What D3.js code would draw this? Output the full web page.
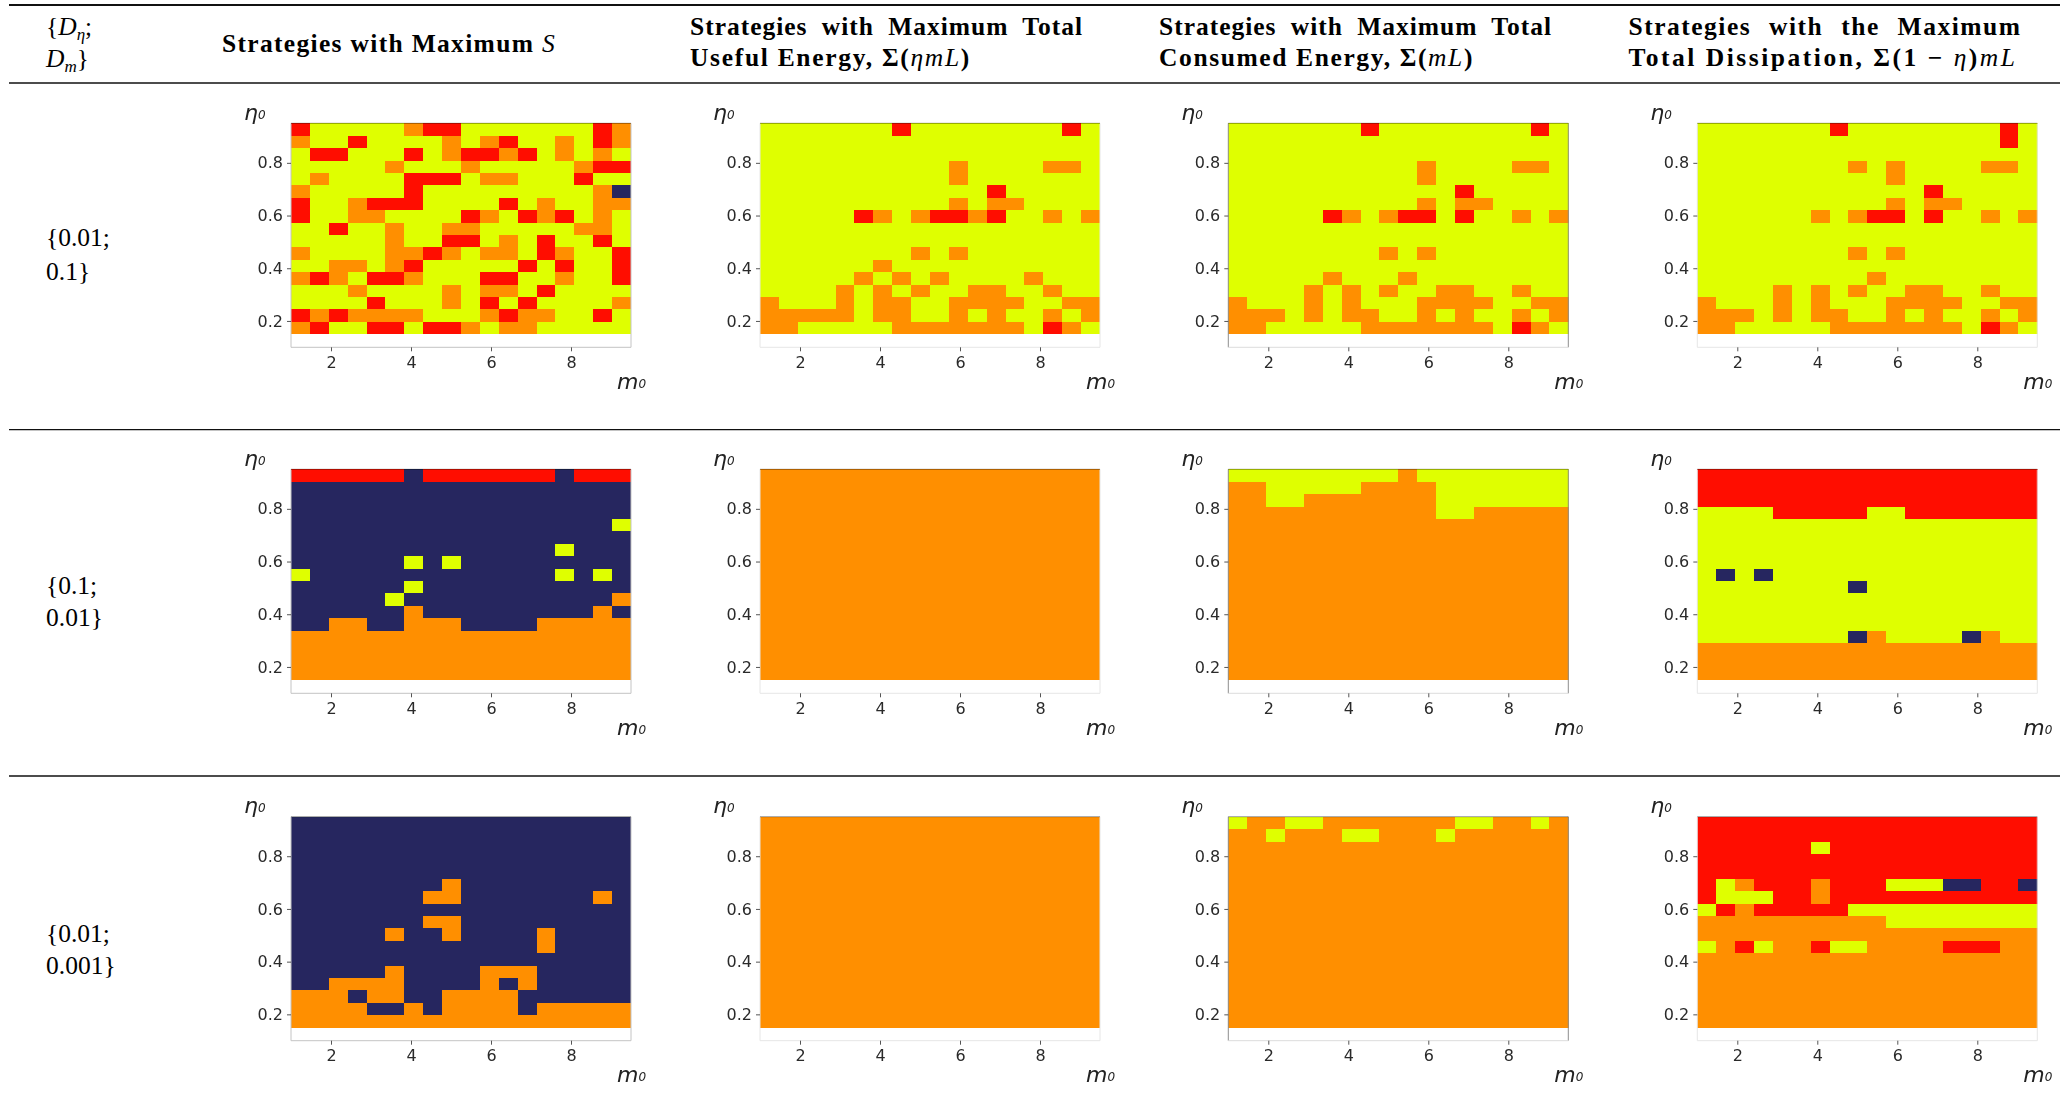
<!DOCTYPE html>
<html><head><meta charset="utf-8">
<script src="https://cdn.jsdelivr.net/npm/d3@7/dist/d3.min.js"></script>
<style>html,body{margin:0;padding:0;background:#fff}svg{display:block}</style>
</head><body><svg id="c" width="2067" height="1120"></svg>
<script>
// Strategy code per cell, rows top (eta 0.95) to bottom (eta 0.15), 18 m0 columns.
// Y yellow, O orange, R red, N navy
const sMaxA = ["RYYYYYORRYYYYYYYRO","OYYRYYYYOYORYYOYRO","YRRYYYRYORRORYOYOY","YYYYYOYYYOYYYYYORR","YOYYYYRRRYOOYYYRYY","OYYYYYRYYYYYYYYYON","RYYORRRYYYYRYOYYOO","RYYOOYYYYROYRORYOY","YYRYYOYYOOYYYYYOOY","YYYYYOYYRRYOYRYYRY","OYYYYOOROYOOYROYYR","YYOOYORYYYYYRYRYYR","OROYRROYYYRRYYOYYR","YYYOYYYYOYOOYRYYYY","YYYYRYYYOYRYRYYYYO","ROROOOOYYYOROOYYRY","ORYYRRYRROYOOYYYYY"];
const usefulA = ["YYYYYYYRYYYYYYYYRY","YYYYYYYYYYYYYYYYYY","YYYYYYYYYYYYYYYYYY","YYYYYYYYYYOYYYYOOY","YYYYYYYYYYOYYYYYYY","YYYYYYYYYYYYRYYYYY","YYYYYYYYYYOYOOYYYY","YYYYYROYORRORYYOYO","YYYYYYYYYYYYYYYYYY","YYYYYYYYYYYYYYYYYY","YYYYYYYYOYOYYYYYYY","YYYYYYOYYYYYYYYYYY","YYYYYOYOYOYYYYOYYY","YYYYOYOYOYYOOYYOYY","OYYYOYOOYYOOOOYYOO","OOOOOYOOYYOYOYYOYO","OOYYYYYOOOOOOOYROY"];
const consumedA = ["YYYYYYYRYYYYYYYYRY","YYYYYYYYYYYYYYYYYY","YYYYYYYYYYYYYYYYYY","YYYYYYYYYYOYYYYOOY","YYYYYYYYYYOYYYYYYY","YYYYYYYYYYYYRYYYYY","YYYYYYYYYYOYOOYYYY","YYYYYROYORRYRYYOYO","YYYYYYYYYYYYYYYYYY","YYYYYYYYYYYYYYYYYY","YYYYYYYYOYOYYYYYYY","YYYYYYYYYYYYYYYYYY","YYYYYOYYYOYYYYYYYY","YYYYOYOYOYYOOYYOYY","OYYYOYOYYYOOOOYYOO","OOOYOYOOYYOYOYYOYO","OOYYYYYOOOOOOOYROY"];
const dissipA = ["YYYYYYYRYYYYYYYYRY","YYYYYYYYYYYYYYYYRY","YYYYYYYYYYYYYYYYYY","YYYYYYYYOYOYYYYOOY","YYYYYYYYYYOYYYYYYY","YYYYYYYYYYYYRYYYYY","YYYYYYYYYYOYOOYYYY","YYYYYYOYORRYRYYOYO","YYYYYYYYYYYYYYYYYY","YYYYYYYYYYYYYYYYYY","YYYYYYYYOYOYYYYYYY","YYYYYYYYYYYYYYYYYY","YYYYYYYYYOYYYYYYYY","YYYYOYOYOYYOOYYOYY","OYYYOYOYYYOOOOYYOO","OOOYOYOOYYOYOYYOYO","OOYYYYYOOOOOOOYROY"];

const sMaxB = ["RRRRRRNRRRRRRRNRRR","NNNNNNNNNNNNNNNNNN","NNNNNNNNNNNNNNNNNN","NNNNNNNNNNNNNNNNNN","NNNNNNNNNNNNNNNNNY","NNNNNNNNNNNNNNNNNN","NNNNNNNNNNNNNNYNNN","NNNNNNYNYNNNNNNNNN","YNNNNNNNNNNNNNYNYN","NNNNNNYNNNNNNNNNNN","NNNNNYNNNNNNNNNNNO","NNNNNNONNNNNNNNNON","NNOONNOOONNNNOOOOO","OOOOOOOOOOOOOOOOOO","OOOOOOOOOOOOOOOOOO","OOOOOOOOOOOOOOOOOO","OOOOOOOOOOOOOOOOOO"];
const usefulB = ["OOOOOOOOOOOOOOOOOO","OOOOOOOOOOOOOOOOOO","OOOOOOOOOOOOOOOOOO","OOOOOOOOOOOOOOOOOO","OOOOOOOOOOOOOOOOOO","OOOOOOOOOOOOOOOOOO","OOOOOOOOOOOOOOOOOO","OOOOOOOOOOOOOOOOOO","OOOOOOOOOOOOOOOOOO","OOOOOOOOOOOOOOOOOO","OOOOOOOOOOOOOOOOOO","OOOOOOOOOOOOOOOOOO","OOOOOOOOOOOOOOOOOO","OOOOOOOOOOOOOOOOOO","OOOOOOOOOOOOOOOOOO","OOOOOOOOOOOOOOOOOO","OOOOOOOOOOOOOOOOOO"];
const consumedB = ["YYYYYYYYYOYYYYYYYY","OOYYYYYOOOOYYYYYYY","OOYYOOOOOOOYYYYYYY","OOOOOOOOOOOYYOOOOO","OOOOOOOOOOOOOOOOOO","OOOOOOOOOOOOOOOOOO","OOOOOOOOOOOOOOOOOO","OOOOOOOOOOOOOOOOOO","OOOOOOOOOOOOOOOOOO","OOOOOOOOOOOOOOOOOO","OOOOOOOOOOOOOOOOOO","OOOOOOOOOOOOOOOOOO","OOOOOOOOOOOOOOOOOO","OOOOOOOOOOOOOOOOOO","OOOOOOOOOOOOOOOOOO","OOOOOOOOOOOOOOOOOO","OOOOOOOOOOOOOOOOOO"];
const dissipB = ["RRRRRRRRRRRRRRRRRR","RRRRRRRRRRRRRRRRRR","RRRRRRRRRRRRRRRRRR","YYYYRRRRRYYRRRRRRR","YYYYYYYYYYYYYYYYYY","YYYYYYYYYYYYYYYYYY","YYYYYYYYYYYYYYYYYY","YYYYYYYYYYYYYYYYYY","YNYNYYYYYYYYYYYYYY","YYYYYYYYNYYYYYYYYY","YYYYYYYYYYYYYYYYYY","YYYYYYYYYYYYYYYYYY","YYYYYYYYYYYYYYYYYY","YYYYYYYYNOYYYYNOYY","OOOOOOOOOOOOOOOOOO","OOOOOOOOOOOOOOOOOO","OOOOOOOOOOOOOOOOOO"];

const sMaxC = ["NNNNNNNNNNNNNNNNNN","NNNNNNNNNNNNNNNNNN","NNNNNNNNNNNNNNNNNN","NNNNNNNNNNNNNNNNNN","NNNNNNNNNNNNNNNNNN","NNNNNNNNONNNNNNNNN","NNNNNNNOONNNNNNNON","NNNNNNNNNNNNNNNNNN","NNNNNNNOONNNNNNNNN","NNNNNONNONNNNONNNN","NNNNNNNNNNNNNONNNN","NNNNNNNNNNNNNNNNNN","NNNNNONNNNOOONNNNN","NNOOOONNNNONONNNNN","OOONOONNOOOONNNNNN","OOOONNONOOOONOOOOO","OOOOOOOOOOOOOOOOOO"];
const usefulC = usefulB.slice();
const consumedC = ["YOOYYOOOOOOOYYOOYO","OOYOOOYYOOOYOOOOOO","OOOOOOOOOOOOOOOOOO","OOOOOOOOOOOOOOOOOO","OOOOOOOOOOOOOOOOOO","OOOOOOOOOOOOOOOOOO","OOOOOOOOOOOOOOOOOO","OOOOOOOOOOOOOOOOOO","OOOOOOOOOOOOOOOOOO","OOOOOOOOOOOOOOOOOO","OOOOOOOOOOOOOOOOOO","OOOOOOOOOOOOOOOOOO","OOOOOOOOOOOOOOOOOO","OOOOOOOOOOOOOOOOOO","OOOOOOOOOOOOOOOOOO","OOOOOOOOOOOOOOOOOO","OOOOOOOOOOOOOOOOOO"];
const dissipC = ["RRRRRRRRRRRRRRRRRR","RRRRRRRRRRRRRRRRRR","RRRRRRYRRRRRRRRRRR","RRRRRRRRRRRRRRRRRR","RRRRRRRRRRRRRRRRRR","RYORRRORRRYYYNNRRN","RYYYRRORRRRRRRRRRR","YRORRRRRYYYYYYYYYY","OOOOOOOOOOYYYYYYYY","OOOOOOOOOOOOOOOOOO","YORYOORYYOOOORRROO","OOOOOOOOOOOOOOOOOO","OOOOOOOOOOOOOOOOOO","OOOOOOOOOOOOOOOOOO","OOOOOOOOOOOOOOOOOO","OOOOOOOOOOOOOOOOOO","OOOOOOOOOOOOOOOOOO"];

const grids = [sMaxA,usefulA,consumedA,dissipA,sMaxB,usefulB,consumedB,dissipB,sMaxC,usefulC,consumedC,dissipC];
const strategyCodes = ["Y","O","R","N"];
const strategyColors = ["#dfff00","#ff8f00","#ff0d00","#26285f"];
const mTicks = [2,4,6,8];
const etaTicks = [0.2,0.4,0.6,0.8];
const mDomain = [1,9.5];
const etaDomain = [0.1,0.95];
const etaGridLow = 0.15;

const colLeft = [291,760,1228.3,1697.3];
const rowTop = [123.3,469.3,816.7];
const panelW = 340, panelH = 224;
const sideColors = ["#c4c4c4","#e6e6e6","#8e8e8e","#e6e6e6"];
const bottomColors = ["#c4c4c4","#e6e6e6","#dcdcdc","#e6e6e6"];

const svg = d3.select("#c");
const defs = svg.append("defs");
defs.append("filter").attr("id","soft").attr("x","-5%").attr("y","-5%").attr("width","110%").attr("height","110%")
  .append("feGaussianBlur").attr("stdDeviation",0.45);
const color = d3.scaleOrdinal(strategyCodes,strategyColors);
const AX = "'DejaVu Sans',sans-serif";

grids.forEach((grid,k)=>{
  const c=k%4, r=Math.floor(k/4);
  const g=svg.append("g").attr("transform",`translate(${colLeft[c]},${rowTop[r]})`).attr("filter","url(#soft)");
  const x=d3.scaleLinear(mDomain,[0,panelW]);
  const y=d3.scaleLinear(etaDomain,[panelH,0]);
  const nc=grid[0].length, nr=grid.length;
  const col=d3.scaleBand(d3.range(nc),mDomain.map(x));
  const row=d3.scaleBand(d3.range(nr),[y(etaDomain[1]),y(etaGridLow)]);
  const cells=grid.flatMap((s,j)=>Array.from(s,(v,i)=>({i,j,v})));
  g.append("g").attr("shape-rendering","crispEdges").selectAll("rect").data(cells).join("rect")
    .attr("x",d=>col(d.i)).attr("y",d=>row(d.j))
    .attr("width",col.bandwidth()+0.3).attr("height",row.bandwidth()+0.3)
    .attr("fill",d=>color(d.v));
  // spines
  g.append("line").attr("y2",panelH).attr("stroke",sideColors[c]);
  g.append("line").attr("x1",panelW).attr("x2",panelW).attr("y2",panelH).attr("stroke",sideColors[c]);
  g.append("line").attr("y1",panelH).attr("y2",panelH).attr("x2",panelW).attr("stroke",bottomColors[c]);
  g.append("line").attr("x2",panelW).attr("stroke","#000").attr("stroke-opacity",0.4).attr("stroke-width",1);
  const xa=d3.axisBottom(x).tickValues(mTicks).tickSize(4).tickPadding(5).tickSizeOuter(0);
  const ya=d3.axisLeft(y).tickValues(etaTicks).tickFormat(d3.format(".1f")).tickSize(4).tickPadding(4).tickSizeOuter(0);
  [g.append("g").attr("transform",`translate(0,${panelH})`).call(xa),g.append("g").call(ya)].forEach(a=>{
    a.select(".domain").remove();
    a.selectAll("line").attr("stroke","#555");
    a.selectAll("text").attr("fill","#2a2a2a").attr("font-family",AX).attr("font-size",16);
  });
  const eta=g.append("text").attr("x",-47).attr("y",-3.5).attr("font-family",AX).attr("font-style","italic").attr("font-size",22).attr("fill","#222");
  eta.append("tspan").text("η");
  eta.append("tspan").attr("font-size",12).attr("dy",-1).text("0");
  const m=g.append("text").attr("x",panelW-14).attr("y",panelH+41.5).attr("font-family",AX).attr("font-style","italic").attr("font-size",22).attr("fill","#222");
  m.append("tspan").text("m");
  m.append("tspan").attr("font-size",12).attr("dy",-1).text("0");
});

// table rules
const ruleX=[9,2060];
[[5,2.2],[83,1.6],[429.7,1.3],[776,1.3]].forEach(([yy,w])=>{
  svg.append("line").attr("x1",ruleX[0]).attr("x2",ruleX[1]).attr("y1",yy).attr("y2",yy).attr("stroke","#111").attr("stroke-width",w);
});

// header text: each line is a list of [text, style]
const SERIF="'Liberation Serif',serif";
function line(x,y,width,parts,weight,gap){
  const t=svg.append("text").attr("x",x).attr("y",y).attr("font-family",SERIF)
    .attr("font-size",25.5).attr("font-weight",weight||"bold").attr("fill","#000").attr("xml:space","preserve");
  parts.forEach(p=>{
    const s=t.append("tspan").text(p[0]);
    if(p[1]) s.attr("font-style","italic").attr("font-weight",p[2]||"normal");
    if(p[3]!==undefined) s.attr("font-size",p[3]);
    if(p[4]!==undefined) s.attr("dy",p[4]);
  });
  if(width){
    const txt=parts.map(p=>p[0]).join("");
    const sp=(txt.match(/ /g)||[]).length;
    const w0=t.node().getComputedTextLength();
    // letter spacing absorbs most of the width, word spacing the given extra gap
    const extra=(gap===undefined?1:gap)*sp;
    t.attr("letter-spacing",Math.max(0,(width-w0-extra)/txt.length));
    const w1=t.node().getComputedTextLength();
    if(sp) t.attr("word-spacing",(width-w1)/sp);
  }
}
line(222,51.5,334,[["Strategies with Maximum "],["S",1]],"bold",0);
line(690,35,393,[["Strategies with Maximum Total"]],"bold",7);
line(690,66,281,[["Useful Energy, Σ("],["ηmL",1],[")"]],"bold",0);
line(1159,35,393,[["Strategies with Maximum Total"]],"bold",7);
line(1159,66,315,[["Consumed Energy, Σ("],["mL",1],[")"]],"bold",0);
line(1628.5,35,393,[["Strategies with the Maximum"]],"bold",10);
line(1628.5,66,389,[["Total Dissipation, Σ(1 − "],["η",1],[")"],["mL",1]],"bold",0);

// first column
line(46,35,0,[["{"],["D",1,"normal"],["η",1,"normal",17,5],[";",0,"",25,-5]],"normal");
line(46,67,0,[["D",1,"normal"],["m",1,"normal",17,5],["}",0,"",25,-5]],"normal");
const rowLabels=[["{0.01;","0.1}"],["{0.1;","0.01}"],["{0.01;","0.001}"]];
const rowBase=[[246,280],[594,626],[942,974]];
rowLabels.forEach((l,i)=>l.forEach((s,j)=>line(46,rowBase[i][j],0,[[s]],"normal")));
</script></body></html>
